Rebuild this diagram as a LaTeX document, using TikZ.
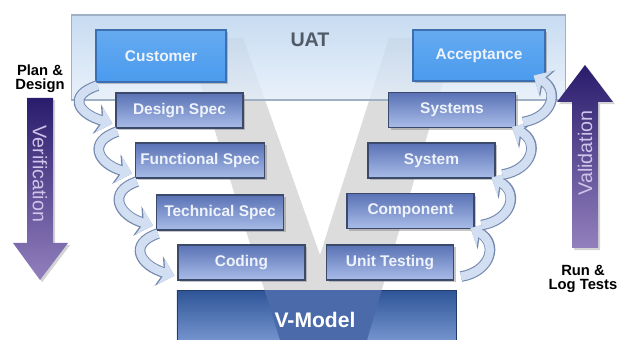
\documentclass[tikz,border=0pt]{standalone}
\usepackage{fontspec}
\setmainfont{Liberation Sans}
\usepackage{tikz}
\usetikzlibrary{arrows.meta}
\usetikzlibrary{shadows}

\definecolor{panelTop}{HTML}{B9D2EE}
\definecolor{panelBot}{HTML}{E4EEF9}
\definecolor{panelEdge}{HTML}{9FB0C4}
\definecolor{vgray}{HTML}{DCDCDC}
\definecolor{stepTop}{HTML}{5A72B5}
\definecolor{stepBot}{HTML}{A9BCE8}
\definecolor{stepEdge}{HTML}{3B4A6B}
\definecolor{endFill}{HTML}{4A9BEE}
\definecolor{endEdge}{HTML}{3B6FB0}
\definecolor{modelTop}{HTML}{2F5597}
\definecolor{modelBot}{HTML}{7B9AD3}
\definecolor{modelV}{HTML}{4A6AAA}
\definecolor{curlFill}{HTML}{D2DFF3}
\definecolor{curlEdge}{HTML}{7489AD}
\definecolor{navy}{HTML}{2A1C6C}
\definecolor{lavender}{HTML}{9280BD}
\definecolor{lavText}{HTML}{CFC4EA}
\definecolor{uatText}{HTML}{505A66}
\definecolor{boxText}{HTML}{EEF3FB}

\tikzset{
  stepbox/.style={rectangle, draw=stepEdge, line width=0.8pt,
    top color=stepTop, bottom color=stepBot,
    minimum width=3.175cm, minimum height=0.875cm,
    text=boxText, font=\bfseries\fontsize{11}{12}\selectfont,
    drop shadow={opacity=0.45, shadow xshift=1.5pt, shadow yshift=-1.5pt}},
  endbox/.style={stepbox, top color=endFill!85!white, bottom color=endFill,
    draw=endEdge, minimum width=3.25cm, minimum height=1.3cm},
  curl/.style={line width=6pt, draw=curlFill, -{Stealth[length=10pt,width=19pt]},
    preaction={draw=curlEdge, line width=7.6pt, -{Stealth[length=11.5pt,width=21.5pt]}}},
  bigarrow/.style={top color=navy, bottom color=lavender,
    drop shadow={opacity=0.35, shadow xshift=1.5pt, shadow yshift=-1.5pt}},
  arrowtext/.style={text=lavText, font=\fontsize{14}{14}\selectfont},
  sidetext/.style={align=center, font=\bfseries\fontsize{10.5}{10}\selectfont}
}

\begin{document}
\begin{tikzpicture}[x=0.025cm, y=-0.025cm]
\clip (0,0) rectangle (620,340);

% the big grey V behind everything
\fill[vgray] (186,38) -- (243,38) -- (320,255) -- (389,38) -- (456,38) -- (367,340) -- (280,340) -- cycle;

% UAT band, see-through so the V shows
\node[draw=panelEdge, line width=0.8pt, top color=panelTop, bottom color=panelBot, fill opacity=0.8,
  minimum width=12.325cm, minimum height=2.125cm] (uat) at (318.5,57.5) {};
\node[font=\bfseries\fontsize{14}{14}\selectfont, text=uatText] (uatname) at (310,40) {UAT};

% base block, with the V running through it
\node[draw=modelTop!70!black, line width=0.6pt, top color=modelTop, bottom color=modelBot,
  minimum width=6.975cm, minimum height=1.375cm] (vmodel) at (316.5,318) {};
\begin{scope}
\clip (vmodel.south west) rectangle (vmodel.north east);
\fill[modelV] (186,38) -- (243,38) -- (320,255) -- (389,38) -- (456,38) -- (367,340) -- (280,340) -- cycle;
\end{scope}
\node[text=white, font=\bfseries\fontsize{15}{15}\selectfont] (vmodelname) at (315,320) {V-Model};

% left leg
\node[endbox] (cust) at (161,56) {Customer};
\node[stepbox] (dspec) at (179.5,110.5) {Design Spec};
\node[stepbox] (fspec) at (200,160.5) {Functional Spec};
\node[stepbox] (tspec) at (220,212.5) {Technical Spec};
\node[stepbox] (coding) at (241.5,262.5) {Coding};

% right leg
\node[endbox, minimum width=3.3cm, minimum height=1.275cm] (accept) at (479,55.5) {Acceptance};
\node[stepbox] (systems) at (452,110) {Systems};
\node[stepbox] (system) at (431.5,160.5) {System};
\node[stepbox] (comp) at (410.5,211) {Component};
\node[stepbox] (unit) at (390,262.5) {Unit Testing};

% curls going down
\draw[curl] ([shift={(2,3)}]cust.south west) .. controls +(-30,10) and +(-35,-10) .. ([shift={(-3,-5)}]dspec.south west);
\draw[curl] ([shift={(2,3)}]dspec.south west) .. controls +(-30,10) and +(-35,-10) .. ([shift={(-3,-5)}]fspec.south west);
\draw[curl] ([shift={(2,3)}]fspec.south west) .. controls +(-30,10) and +(-35,-10) .. ([shift={(-3,-5)}]tspec.south west);
\draw[curl] ([shift={(2,3)}]tspec.south west) .. controls +(-30,10) and +(-35,-10) .. ([shift={(-3,-5)}]coding.south west);

% curls going up
\draw[curl] ([shift={(7,-4)}]unit.south east) .. controls +(30,-5) and +(28,15) .. ([shift={(-4,-1)}]comp.south east);
\draw[curl] ([shift={(7,-4)}]comp.south east) .. controls +(30,-5) and +(28,15) .. ([shift={(-4,-1)}]system.south east);
\draw[curl] ([shift={(7,-4)}]system.south east) .. controls +(30,-5) and +(28,15) .. ([shift={(-4,-1)}]systems.south east);
\draw[curl] ([shift={(7,-6)}]systems.south east) .. controls +(30,-5) and +(26,15) .. ([shift={(-12,-6)}]accept.south east);

% side arrows
\shade[bigarrow] (27,98) -- (53,98) -- (53,243) -- (68,243) -- (40,280) -- (13,243) -- (27,243) -- cycle;
\node[arrowtext, rotate=-90] (verif) at (40,174) {Verification};
\shade[bigarrow] (585,65) -- (613,102) -- (598,102) -- (598,248) -- (572,248) -- (572,102) -- (557,102) -- cycle;
\node[arrowtext, rotate=90] (valid) at (585,153) {Validation};

\node[sidetext] (plan) at (40,79) {Plan \&\\Design};
\node[sidetext] (runlog) at (583,279) {Run \&\\Log Tests};

\end{tikzpicture}
\end{document}
